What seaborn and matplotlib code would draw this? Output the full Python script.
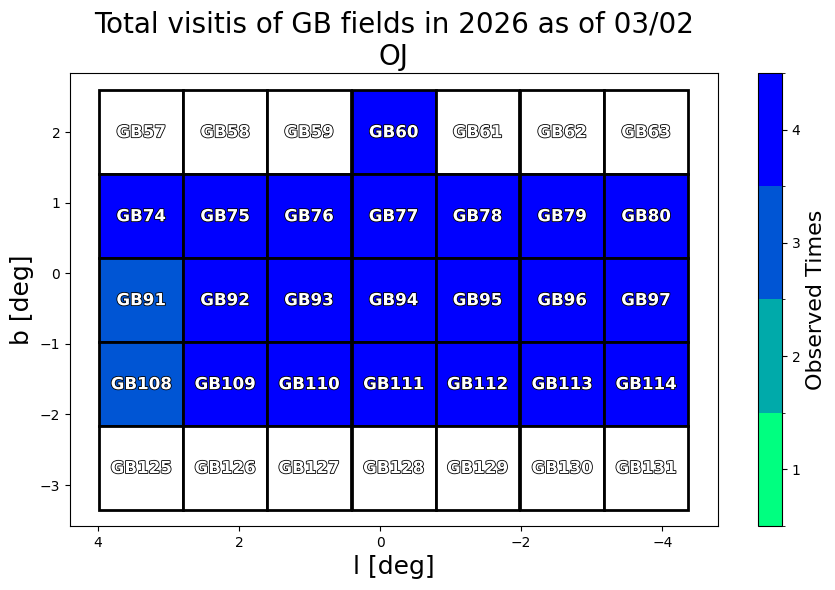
import matplotlib
matplotlib.use("Agg")
import matplotlib.pyplot as plt
import matplotlib.patheffects as pe
import numpy as np
import seaborn as sns
from matplotlib.colors import ListedColormap, BoundaryNorm
from matplotlib.cm import ScalarMappable
from matplotlib.patches import Rectangle

# Centros dos campos (graus galácticos) e tamanho de cada campo
L_CENTERS = [3.39, 2.20, 1.01, -0.19, -1.38, -2.58, -3.77]
B_CENTERS = [2.00, 0.81, -0.38, -1.57, -2.76]
FIELD_SIZE = 1.19

FIELD_IDS = [
    [57, 58, 59, 60, 61, 62, 63],
    [74, 75, 76, 77, 78, 79, 80],
    [91, 92, 93, 94, 95, 96, 97],
    [108, 109, 110, 111, 112, 113, 114],
    [125, 126, 127, 128, 129, 130, 131],
]
VISITS = [
    [0, 0, 0, 4, 0, 0, 0],
    [4, 4, 4, 4, 4, 4, 4],
    [3, 4, 4, 4, 4, 4, 4],
    [3, 4, 4, 4, 4, 4, 4],
    [0, 0, 0, 0, 0, 0, 0],
]
CBAR_TICKS = [1, 2, 3, 4]

# winter_r discretizado: extremos verde-primavera -> azul puro
base = matplotlib.colormaps["winter_r"]
cmap = ListedColormap(sns.color_palette(base(np.linspace(0, 1, len(CBAR_TICKS)))))
norm = BoundaryNorm(np.arange(0.5, len(CBAR_TICKS) + 1.0, 1.0), cmap.N)

fig = plt.figure(figsize=(8.35, 5.9), dpi=100)
ax = fig.add_axes([0.0838, 0.1085, 0.776, 0.7678])
cax = fig.add_axes([0.9078, 0.1085, 0.0287, 0.7678])

half = FIELD_SIZE / 2
for j, b in enumerate(B_CENTERS):
    for i, l in enumerate(L_CENTERS):
        v = VISITS[j][i]
        face = cmap(norm(v)) if v > 0 else "white"
        ax.add_patch(Rectangle((l - half, b - half), FIELD_SIZE, FIELD_SIZE,
                               facecolor=face, edgecolor="black", linewidth=2))
        ax.text(l, b, f"GB{FIELD_IDS[j][i]}", ha="center", va="center",
                color="white", fontsize=12, fontweight="bold",
                path_effects=[pe.withStroke(linewidth=1.2, foreground="black")])

ax.set_xlim(4.40, -4.79)
ax.set_ylim(-3.58, 2.84)
ax.set_xticks([4, 2, 0, -2, -4])
ax.set_yticks([2, 1, 0, -1, -2, -3])
ax.set_xlabel("l [deg]", fontsize=18)
ax.set_ylabel("b [deg]", fontsize=18)
ax.set_title("Total visitis of GB fields in 2026 as of 03/02\nOJ", fontsize=20)

cb = fig.colorbar(ScalarMappable(norm=norm, cmap=cmap), cax=cax, ticks=CBAR_TICKS)
cb.set_label("Observed Times", fontsize=16)

fig.savefig("out.png", dpi=100)
